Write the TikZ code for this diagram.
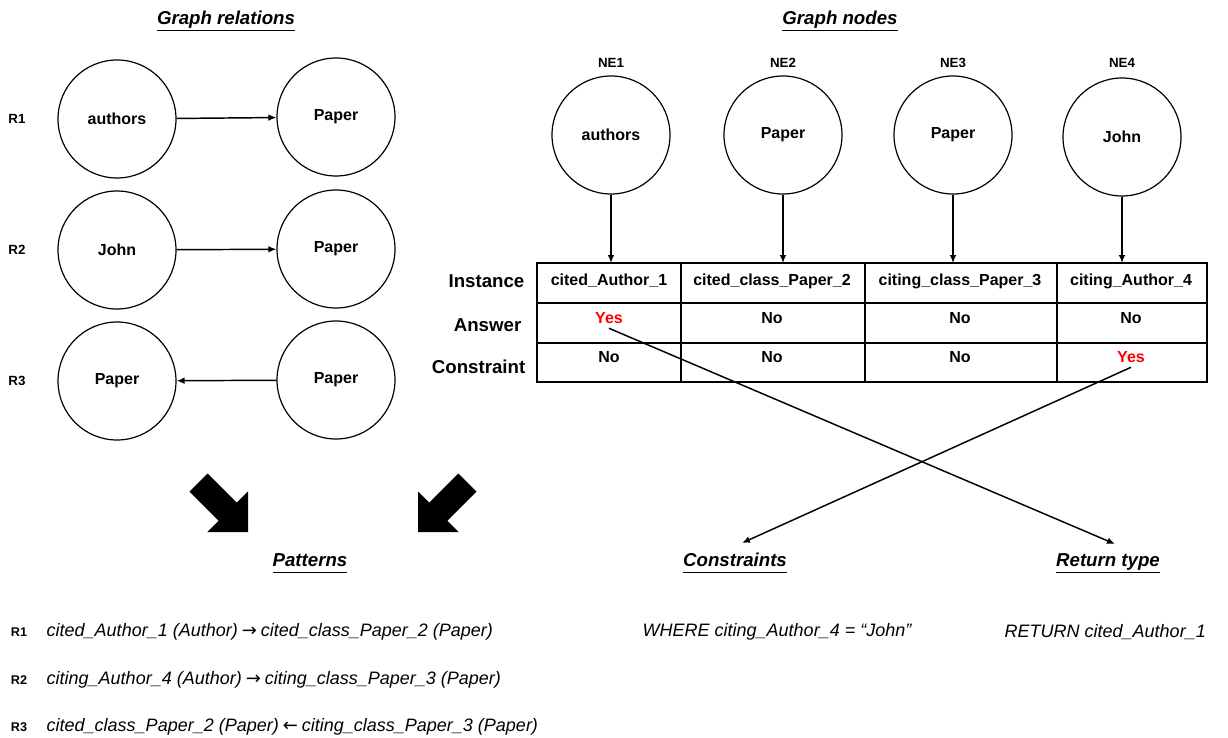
\documentclass[tikz,border=0pt]{standalone}
\usepackage{fontspec}
\setmainfont{Liberation Sans}
\newfontfamily\arrowfont{DejaVu Sans}
\usepackage{tikz}
\usetikzlibrary{arrows.meta}
\newcommand{\headline}[1]{\underline{#1\vphantom{gy}}}
\newcommand{\rarr}{\hspace{3pt}{\arrowfont →}\hspace{3pt}}
\newcommand{\larr}{\hspace{3pt}{\arrowfont ←}\hspace{3pt}}

\begin{document}
\begin{tikzpicture}[x=0.75pt,y=-0.75pt,
    ent/.style={circle,draw,line width=0.9pt,minimum size=88.5pt,inner sep=0pt,font=\bfseries\fontsize{12}{14}\selectfont},
    rlabel/.style={font=\bfseries\fontsize{10}{12}\selectfont},
    heading/.style={font=\bfseries\itshape\fontsize{14}{16}\selectfont},
    rowname/.style={anchor=east,font=\bfseries\fontsize{14}{16}\selectfont},
    cell/.style={font=\bfseries\fontsize{12}{14}\selectfont},
    yes/.style={cell,text=red},
    query/.style={anchor=west,font=\itshape\fontsize{13.5}{16}\selectfont},
    qlabel/.style={font=\bfseries\fontsize{9.5}{11}\selectfont},
    link/.style={line width=1.1pt,-{Latex[length=6pt,width=5pt]}}]
\useasboundingbox (0,0) rectangle (1228,738);

\node[heading] (grel) at (226,21) {\headline{Graph relations}};
\node[heading] (gnodes) at (840,21) {\headline{Graph nodes}};

\node[rlabel] (r1) at (17,119) {R1};
\node[rlabel] (r2) at (17,250) {R2};
\node[rlabel] (r3) at (17,381) {R3};
\node[ent] (a1) at (117,119) {authors};
\node[ent] (b1) at (336,117) {Paper};
\node[ent] (a2) at (117,250) {John};
\node[ent] (b2) at (336,249) {Paper};
\node[ent] (a3) at (117,381) {Paper};
\node[ent] (b3) at (336,380) {Paper};
\draw[link] (a1) -- (b1);
\draw[link] (a2) -- (b2);
\draw[link] (b3) -- (a3);

\node[rlabel] (n1) at (611,63) {NE1};
\node[rlabel] (n2) at (783,63) {NE2};
\node[rlabel] (n3) at (953,63) {NE3};
\node[rlabel] (n4) at (1122,63) {NE4};
\node[ent] (ne1) at (611,135) {authors};
\node[ent] (ne2) at (783,135) {Paper};
\node[ent] (ne3) at (953,135) {Paper};
\node[ent] (ne4) at (1122,137) {John};

\coordinate (tabtop) at (537,263);
\draw[line width=0.9pt] (537,263) rectangle (1207,382);
\foreach \y in {303,343}
    \draw[line width=0.9pt] (537,\y) -- (1207,\y);
\foreach \x in {681,865,1057}
    \draw[line width=0.9pt] (\x,263) -- (\x,382);

\node[rowname] (inst) at (529,281) {Instance};
\node[rowname] (ans) at (526,325) {Answer};
\node[rowname] (cons) at (530,367) {Constraint};

\node[cell] (i1) at (609,281) {cited\_Author\_1};
\node[cell] (i2) at (772,281) {cited\_class\_Paper\_2};
\node[cell] (i3) at (960,281) {citing\_class\_Paper\_3};
\node[cell] (i4) at (1131,281) {citing\_Author\_4};
\node[yes] (y1) at (609,318) {Yes};
\node[cell] (y2) at (772,318) {No};
\node[cell] (y3) at (960,318) {No};
\node[cell] (y4) at (1131,318) {No};
\node[cell] (c1) at (609,357) {No};
\node[cell] (c2) at (772,357) {No};
\node[cell] (c3) at (960,357) {No};
\node[yes] (c4) at (1131,357) {Yes};

\foreach \n in {ne1,ne2,ne3,ne4}
    \draw[link] (\n.south) -- (\n.south |- tabtop);

\fill (207.6,473.5) -- (236.8,502.6) -- (248,491.4) -- (248,532) -- (207.4,532) -- (218.6,520.8) -- (189.5,491.6) -- cycle;
\fill (458.4,473.5) -- (429.2,502.6) -- (418,491.4) -- (418,532) -- (458.6,532) -- (447.4,520.8) -- (476.5,491.6) -- cycle;

\node[heading] (pat) at (310,563) {\headline{Patterns}};
\node[heading] (ctr) at (735,563) {\headline{Constraints}};
\node[heading] (ret) at (1108,563) {\headline{Return type}};
\coordinate (ctip) at (742,543);
\coordinate (rtip) at (1115,544);
\draw[link] (y1.south) -- (rtip);
\draw[link] (c4.south) -- (ctip);

\node[qlabel] (q1) at (19,632) {R1};
\node[qlabel] (q2) at (19,680) {R2};
\node[qlabel] (q3) at (19,727) {R3};
\node[query] (p1) at (42,632) {cited\_Author\_1 (Author)\rarr cited\_class\_Paper\_2 (Paper)};
\node[query] (p2) at (42,680) {citing\_Author\_4 (Author)\rarr citing\_class\_Paper\_3 (Paper)};
\node[query] (p3) at (42,727) {cited\_class\_Paper\_2 (Paper)\larr citing\_class\_Paper\_3 (Paper)};
\node[query] (wh) at (638,632) {WHERE citing\_Author\_4 = “John”};
\node[query] (rt) at (1000,632) {RETURN cited\_Author\_1};
\end{tikzpicture}
\end{document}
